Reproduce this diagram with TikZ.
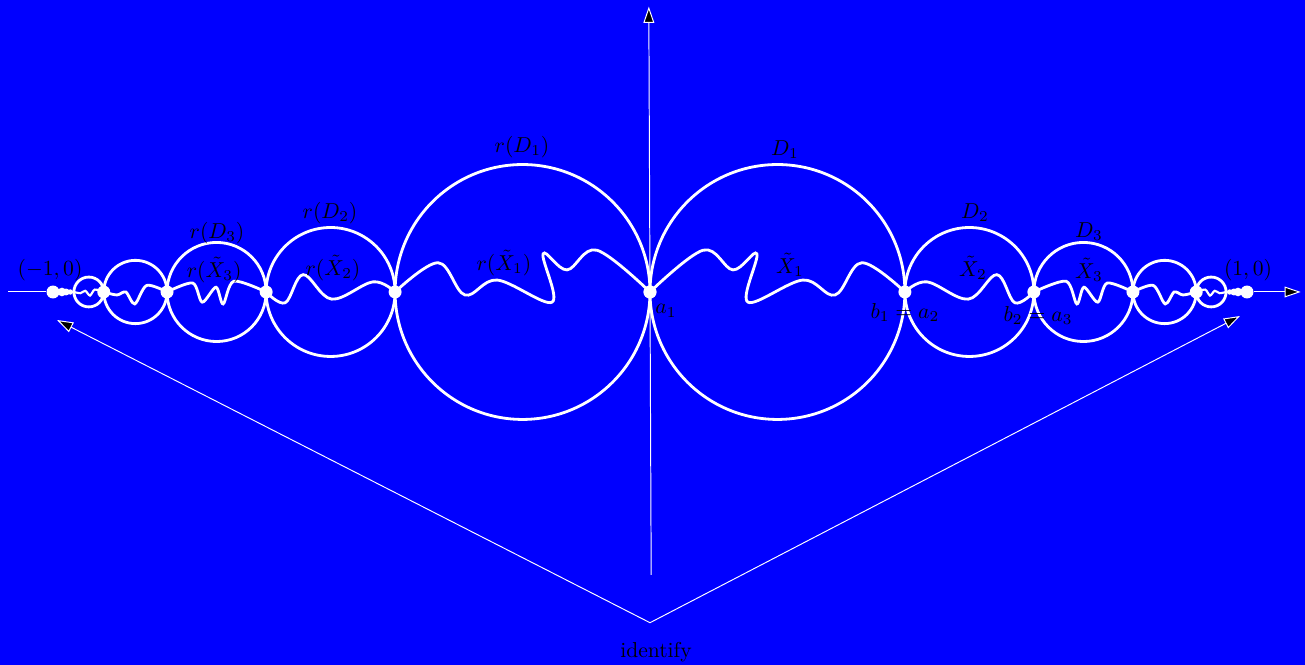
\documentclass[tikz,border=0pt]{standalone}
\usepackage{xcolor}
\usetikzlibrary{arrows.meta}
\begin{document}
\begin{tikzpicture}[x=9.72cm, y=9.72cm, >={Triangle[length=7.5pt,width=5pt,fill=black]}, every node/.style={font=\normalsize, text=black}]
  \tikzstyle{bd}=[white, line width=1.3pt]
  \tikzstyle{guide}=[white, line width=0.45pt]
  \tikzstyle{dot}=[circle, fill=white, inner sep=0pt, minimum size=6pt]
  \tikzstyle{tiny}=[circle, fill=white, inner sep=0pt]
  % background
  \fill[blue] (-1.0888,-0.6248) rectangle (1.0972,0.4891);
  \useasboundingbox (-1.0888,-0.6248) rectangle (1.0972,0.4891);
  % both halves, the left one is the mirror image
  \foreach \s/\n in {1/R,-1/L}{
    \begin{scope}[xscale=\s]
      \draw[bd] (0.2135,0) circle (0.2135);
      \draw[bd] (0.535,0) circle (0.108);
      \draw[bd] (0.726,0) circle (0.083);
      \draw[bd] (0.862,0) circle (0.053);
      \draw[bd] (0.940,0) circle (0.025);
      % the curves X_n
      \draw[bd] plot[smooth, tension=0.6] coordinates {(0,0) (0.089,0.070) (0.139,0.037) (0.179,0.064) (0.164,-0.017) (0.256,0.020) (0.310,-0.005) (0.355,0.049) (0.427,0)};
      \draw[bd] plot[smooth, tension=0.6] coordinates {(0.427,0) (0.464,0.017) (0.533,-0.012) (0.581,0.029) (0.611,-0.018) (0.643,0)};
      \draw[bd] plot[smooth, tension=0.5] coordinates {(0.643,0) (0.697,0.018) (0.715,-0.020) (0.727,0.008) (0.750,-0.017) (0.766,0.015) (0.809,0)};
      \draw[bd] plot[smooth, tension=0.5] coordinates {(0.809,0) (0.843,0.011) (0.863,-0.020) (0.878,0.0) (0.893,-0.005) (0.915,0)};
      \draw[bd, line width=1pt] plot[smooth, tension=0.5] coordinates {(0.915,0) (0.930,0.004) (0.938,-0.006) (0.946,0.002) (0.954,-0.002) (0.965,0)};
      \draw[bd] (0.965,0) -- (1,0);
      % points
      \node[dot] (\n0) at (0,0) {};
      \node[dot] (\n1) at (0.427,0) {};
      \node[dot] (\n2) at (0.643,0) {};
      \node[dot] (\n3) at (0.809,0) {};
      \node[dot] (\n4) at (0.915,0) {};
      \node[tiny, minimum size=2.5pt] (\n5) at (0.971,0) {};
      \node[tiny, minimum size=3.2pt] (\n6) at (0.978,0) {};
      \node[tiny, minimum size=4pt] (\n7) at (0.985,0) {};
      \node[dot] (\n9) at (1,0) {};
    \end{scope}
  }
  % axes and identification arrows
  \coordinate (hl) at (-1.075,0);
  \coordinate (hr) at (1.090,0);
  \coordinate (vb) at (0.002,-0.474);
  \coordinate (vt) at (-0.002,0.478);
  \coordinate (apex) at (0,-0.554);
  \coordinate (lt) at (-0.9933,-0.0469);
  \coordinate (rt) at (0.9883,-0.0402);
  \draw[guide] (hl) -- (L9);
  \draw[guide,->] (R9) -- (hr);
  \draw[guide,->] (vb) -- (vt);
  \draw[guide,->] (apex) -- (lt);
  \draw[guide,->] (apex) -- (rt);
  % labels
  \node (dOne)   at (0.2261,0.2379) {$D_1$};
  \node (dTwo)   at (0.5444,0.1323) {$D_2$};
  \node (dThree) at (0.7353,0.1005) {$D_3$};
  \node (rdOne)   at (-0.2144,0.2429) {$r(D_1)$};
  \node (rdTwo)   at (-0.5360,0.1323) {$r(D_2)$};
  \node (rdThree) at (-0.7253,0.0990) {$r(D_3)$};
  \node (xOne)   at (0.2345,0.0452) {$\tilde X_1$};
  \node (xTwo)   at (0.5410,0.0400) {$\tilde X_2$};
  \node (xThree) at (0.7353,0.0369) {$\tilde X_3$};
  \node (rxOne)   at (-0.2446,0.0486) {$r(\tilde X_1)$};
  \node (rxTwo)   at (-0.5310,0.0400) {$r(\tilde X_2)$};
  \node (rxThree) at (-0.7300,0.0369) {$r(\tilde X_3)$};
  \node (aOne) at (0.0268,-0.0318) {$a_1$};
  \node (bOne) at (0.4270,-0.0350) {$b_1=a_2$};
  \node (bTwo) at (0.6500,-0.0400) {$b_2=a_3$};
  \node (mOne) at (-1.0050,0.0369) {$(-1,0)$};
  \node (pOne) at (1.0017,0.0369) {$(1,0)$};
  \node (ident) at (0.0100,-0.6030) {identify};
\end{tikzpicture}
\end{document}
